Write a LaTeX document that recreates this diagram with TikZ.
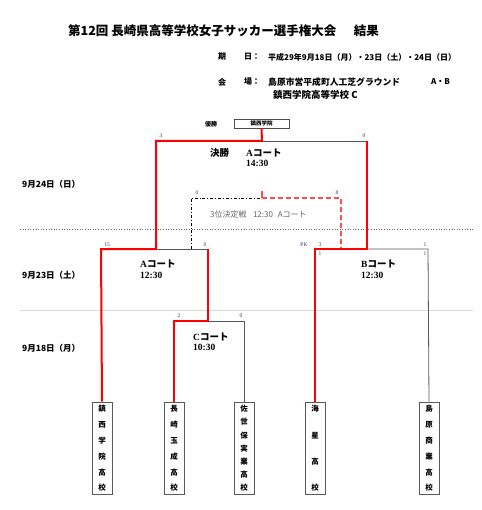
\documentclass[tikz,border=0pt]{standalone}
\usepackage{fontspec}
\setmainfont{Liberation Serif}
\newfontfamily\jp{Noto Sans CJK JP}
\newcommand\teamcol[3]{%
  \foreach \c [count=\i] in {#3} {\node[tchar] at (#1,{409+(\i-1)*79/(#2-1)}) {\c};}}
\begin{document}
\begin{tikzpicture}[x=1pt,y=-1pt,
  win/.style={draw=red,line width=2pt},
  lose/.style={draw=black!65,line width=0.8pt},
  score/.style={font=\fontsize{5.5}{6}\selectfont,text=black!50!blue!60!gray,inner sep=0},
  team/.style={draw=black!65,line width=0.9pt,minimum width=20pt,minimum height=92pt,inner sep=0},
  tchar/.style={font=\jp\bfseries\fontsize{7.5}{8}\selectfont,inner sep=0},
  hdr/.style={font=\jp\bfseries\fontsize{8}{9}\selectfont,anchor=west,inner sep=0},
  hdrb/.style={font=\jp\bfseries\fontsize{8.8}{9}\selectfont,anchor=west,inner sep=0},
  court/.style={font=\bfseries\fontsize{9.5}{10}\selectfont,anchor=west,inner sep=0},
  datel/.style={font=\jp\bfseries\fontsize{8.5}{9}\selectfont,anchor=west,inner sep=0}]
\useasboundingbox (0,0) rectangle (481,510);
% title and header
\node[font=\jp\bfseries\fontsize{12.5}{14}\selectfont,anchor=west,inner sep=0] (title) at (68,31)
  {第12回 長崎県高等学校女子サッカー選手権大会\hspace{1.4em}結果};
\node[hdr] (k1) at (218,57) {期};
\node[hdr] (k2) at (244,57) {日：};
\node[hdr] (k3) at (268,57) {平成29年9月18日（月）・23日（土）・24日（日）};
\node[hdr] (v1) at (218,82) {会};
\node[hdr] (v2) at (244,82) {場：};
\node[hdrb] (v3) at (268,82) {島原市営平成町人工芝グラウンド};
\node[hdr] (v4) at (431,82) {A・B};
\node[hdrb,font=\jp\bfseries\fontsize{9.5}{10}\selectfont] (v5) at (273,95) {鎮西学院高等学校 C};
% separators
\draw[black!60,dotted,line width=0.6pt] (20,229) coordinate (s1a) -- (473,229) coordinate (s1b);
\draw[black!15,line width=0.6pt] (20,310) coordinate (s2a) -- (473,310) coordinate (s2b);
% date labels
\node[datel] (d24) at (22,184) {9月24日（日）};
\node[datel] (d23) at (22,275) {9月23日（土）};
\node[datel] (d18) at (22,348) {9月18日（月）};
% champion
\node[font=\jp\bfseries\fontsize{6}{7}\selectfont,inner sep=0] (yusho) at (211,124) {優勝};
\node[draw=black!70,line width=0.8pt,minimum width=55pt,minimum height=9pt,inner sep=0,
  font=\jp\bfseries\fontsize{5.5}{6}\selectfont] (champ) at (261.5,123.5) {鎮西学院};
% teams
\node[team] (t1) at (102,448) {};
\node[team] (t2) at (174,448) {};
\node[team] (t3) at (244,448) {};
\node[team] (t4) at (315,448) {};
\node[team] (t5) at (429,448) {};
\teamcol{102}{6}{鎮,西,学,院,高,校}
\teamcol{174}{6}{長,崎,玉,成,高,校}
\teamcol{244}{7}{佐,世,保,実,業,高,校}
\teamcol{315}{4}{海,星,高,校}
\teamcol{429}{6}{島,原,商,業,高,校}
% junctions
\coordinate (fa) at (156,141);
\coordinate (fm) at (262,141);
\coordinate (fb) at (367,141);
\coordinate (sa1) at (101,249);
\coordinate (sa) at (156,249);
\coordinate (sa2) at (208,249);
\coordinate (sb1) at (315,249);
\coordinate (sb) at (367,249);
\coordinate (sb2) at (428,249);
\coordinate (c1) at (174,321);
\coordinate (c) at (208,321);
\coordinate (c2) at (244,321);
\coordinate (q1) at (191,249);
\coordinate (q1t) at (191,198);
\coordinate (qm) at (262,198);
\coordinate (qmt) at (262,191);
\coordinate (q2t) at (341,198);
\coordinate (q2) at (341,249);
% losing lines
\draw[lose] (fm) -- (fb);
\draw[lose] (sa) -- (sa2);
\draw[lose] (c) -- (c2) -- (t3.north);
\draw[lose] (sb) -- (sb2) -- (t5.north);
% third place
\draw[black,line width=0.8pt,dash dot] (q1) -- (q1t) -- (qm);
\draw[red!70,line width=1.6pt,dash pattern=on 5pt off 3pt] (qm) -- (q2t) -- (q2);
\draw[red!70,line width=1.2pt] (qmt) -- (qm);
% winning lines
\draw[win,line join=miter] (t1.north) -- (sa1) -- (sa) -- (fa) -- (fm) -- (champ.south);
\draw[win,line join=miter] (t2.north) -- (c1) -- (c) -- (sa2);
\draw[win,line join=miter] (t4.north) -- (sb1) -- (sb) -- (fb);
% match labels
\node[font=\jp\bfseries\fontsize{9.5}{10}\selectfont,anchor=west,inner sep=0] (fl) at (210,153) {決勝};
\node[court] (fc) at (246,153) {A{\jp コート}};
\node[court] (ft) at (246,163) {14:30};
\node[font=\jp\fontsize{8}{9}\selectfont,text=black!60,anchor=west,inner sep=0] (ql) at (210,214)
  {3位決定戦\hspace{0.8em}12:30\hspace{0.6em}Aコート};
\node[court] (ac) at (140,264) {A{\jp コート}};
\node[court] (at) at (140,275) {12:30};
\node[court] (bc) at (361,264) {B{\jp コート}};
\node[court] (bt) at (361,275) {12:30};
\node[court] (cc) at (193,337) {C{\jp コート}};
\node[court] (ct) at (193,347) {10:30};
% scores
\node[score] (s1) at (161,136) {3};
\node[score] (s2) at (364,136) {0};
\node[score] (s3) at (197,193) {0};
\node[score] (s4) at (337,193) {8};
\node[score] (s5) at (107,245) {15};
\node[score] (s6) at (205,245) {0};
\node[score] (s7) at (304,245) {PK};
\node[score] (s8) at (320,245) {3};
\node[score] (s9) at (425,245) {1};
\node[score] (s10) at (320,254) {1};
\node[score] (s11) at (425,254) {1};
\node[score] (s12) at (179,316) {2};
\node[score] (s13) at (241,316) {0};
\end{tikzpicture}
\end{document}
